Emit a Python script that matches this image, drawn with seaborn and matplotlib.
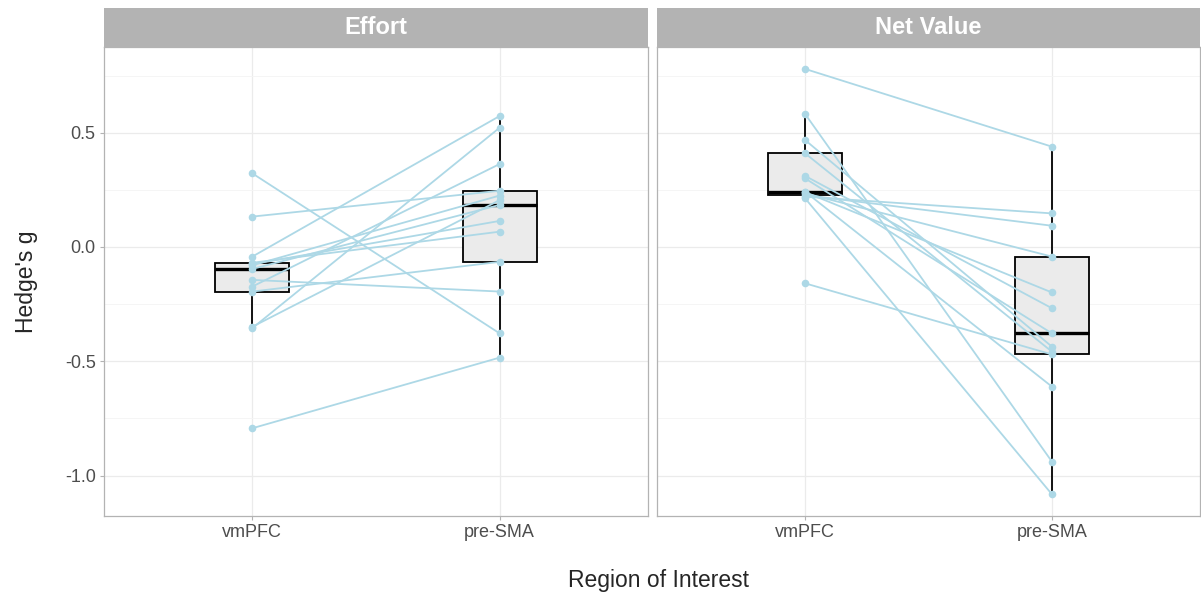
import numpy as np
import pandas as pd
import seaborn as sns
import matplotlib.pyplot as plt
from matplotlib.ticker import FixedLocator

regions = ['vmPFC', 'pre-SMA']
panels = ['Effort', 'Net Value']
subjects = list(range(1, 14))

# Hedge's g per subject (paired by subject)
effort_vmpfc = [0.322, 0.133, -0.042, -0.793, -0.144, -0.355, -0.349, -0.195, -0.173, -0.096, -0.080, -0.075, -0.069]
effort_presma = [-0.378, 0.246, 0.573, -0.484, -0.195, 0.522, 0.205, -0.065, 0.363, 0.184, 0.225, 0.114, 0.067]
net_vmpfc = [0.779, -0.159, 0.582, 0.468, 0.410, 0.311, 0.213, 0.220, 0.227, 0.235, 0.240, 0.242, 0.300]
net_presma = [0.439, -0.470, -0.939, -0.436, -0.458, -0.268, -1.082, 0.147, 0.093, -0.042, -0.199, -0.611, -0.378]

rows = []
for panel, a, b in [('Effort', effort_vmpfc, effort_presma), ('Net Value', net_vmpfc, net_presma)]:
    for s, va, vb in zip(subjects, a, b):
        rows.append((panel, s, 'vmPFC', 0, va))
        rows.append((panel, s, 'pre-SMA', 1, vb))
df = pd.DataFrame(rows, columns=['panel', 'subject', 'region', 'xpos', 'g'])

sns.set_style("white")
plt.rcParams['font.family'] = ['Liberation Sans', 'DejaVu Sans']

W, H = 1201, 596
fig = plt.figure(figsize=(W / 100, H / 100), dpi=100)
boxes = [(104, 648), (657, 1200)]
top, bot, strip_top = 47, 516, 8
line_col = '#ADD8E6'

for i, (panel, (x0, x1)) in enumerate(zip(panels, boxes)):
    ax = fig.add_axes([x0 / W, 1 - bot / H, (x1 - x0) / W, (bot - top) / H])
    d = df[df.panel == panel]
    sns.boxplot(data=d, x='region', y='g', order=regions, width=0.3, color='#ebebeb',
                saturation=1, linecolor='black', linewidth=1.3, showfliers=False,
                showcaps=False, medianprops={'linewidth': 2.4}, ax=ax, zorder=2)
    sns.lineplot(data=d, x='xpos', y='g', units='subject', estimator=None,
                 color=line_col, linewidth=1.3, ax=ax, zorder=3)
    sns.scatterplot(data=d, x='xpos', y='g', color=line_col, s=30, linewidth=0,
                    ax=ax, zorder=4)
    ax.set_xlim(-0.6, 1.6)
    ax.set_ylim(-1.177, 0.875)
    ax.set_xticks([0, 1])
    ax.set_xticklabels(regions)
    ax.yaxis.set_major_locator(FixedLocator([-1.0, -0.5, 0.0, 0.5]))
    ax.yaxis.set_minor_locator(FixedLocator([-0.75, -0.25, 0.25, 0.75]))
    ax.set_yticklabels(['-1.0', '-0.5', '0.0', '0.5'])
    ax.grid(which='major', color='#ebebeb', linewidth=0.9, zorder=0)
    ax.grid(which='minor', axis='y', color='#f4f4f4', linewidth=0.6, zorder=0)
    ax.set_axisbelow(True)
    for sp in ax.spines.values():
        sp.set_color('#b3b3b3')
        sp.set_linewidth(0.9)
    ax.tick_params(which='major', length=3, color='#b3b3b3', labelsize=13,
                   labelcolor='#4d4d4d', left=True, bottom=True, pad=3)
    ax.tick_params(which='minor', length=0)
    ax.set_xlabel('')
    ax.set_ylabel('')
    if i == 1:
        ax.tick_params(labelleft=False, left=False)
    sax = fig.add_axes([x0 / W, 1 - top / H, (x1 - x0) / W, (top - strip_top) / H])
    sax.set_facecolor('#b3b3b3')
    sax.set_xticks([])
    sax.set_yticks([])
    for sp in sax.spines.values():
        sp.set_visible(False)
    sax.text(0.5, 0.5, panel, ha='center', va='center', color='white',
             fontsize=17, fontweight='bold', transform=sax.transAxes)

fig.text(27 / W, 1 - 282 / H, "Hedge's g", rotation=90, ha='center', va='center', fontsize=16.5)
fig.text(658 / W, 1 - 581 / H, 'Region of Interest', ha='center', va='center', fontsize=16.5)

fig.savefig('out.png', dpi=100)
